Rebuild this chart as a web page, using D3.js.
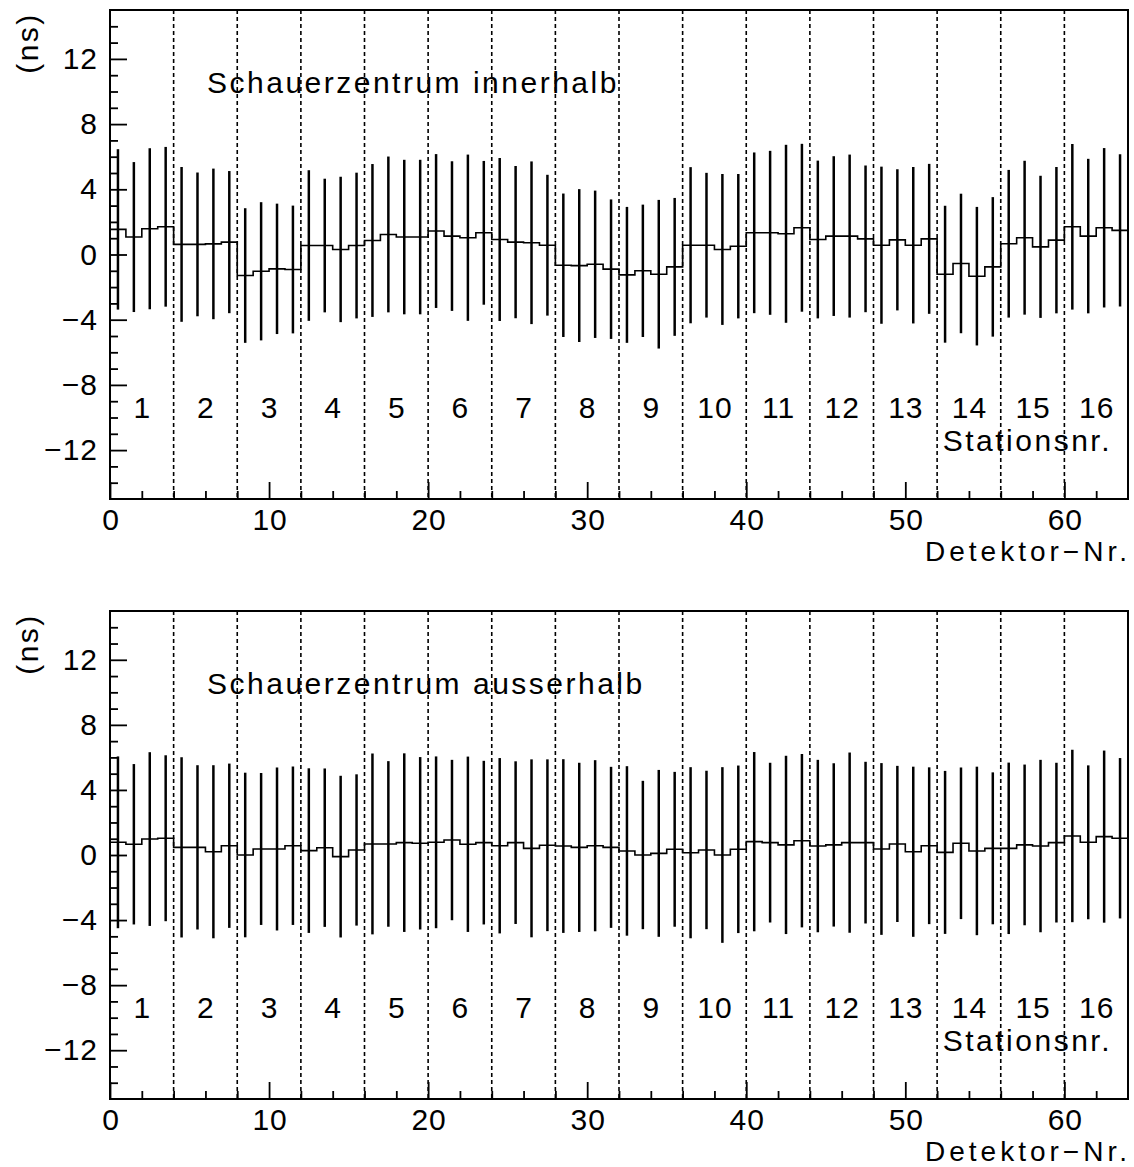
<!DOCTYPE html>
<html>
<head>
<meta charset="utf-8">
<script src="https://cdn.jsdelivr.net/npm/d3@7"></script>
<style>
  body { margin: 0; background: #fff; }
  svg text { font-family: "Liberation Sans", Arial, sans-serif; fill: #000; }
</style>
</head>
<body>
<svg id="chart"></svg>
<script>
// Mittelwerte und Fehler je Detektor (0..63)
const meansIn = [1.54, 1.07, 1.58, 1.70, 0.62, 0.62, 0.65, 0.76, -1.29, -1.03, -0.88, -0.92, 0.55, 0.55, 0.31, 0.55,
                 0.86, 1.23, 1.07, 1.07, 1.44, 1.13, 1.03, 1.33, 0.92, 0.76, 0.72, 0.57, -0.66, -0.68, -0.60, -0.90,
                 -1.25, -1.00, -1.21, -0.76, 0.57, 0.57, 0.31, 0.51, 1.33, 1.33, 1.27, 1.64, 0.92, 1.13, 1.13, 0.96,
                 0.57, 0.90, 0.57, 0.96, -1.21, -0.55, -1.33, -0.76, 0.66, 1.03, 0.47, 0.88, 1.70, 1.13, 1.64, 1.48];
const errsIn = [4.92, 4.60, 4.94, 4.90, 4.75, 4.41, 4.62, 4.36, 4.13, 4.24, 4.00, 3.92, 4.62, 4.10, 4.46, 4.47,
                4.69, 4.78, 4.74, 4.74, 4.72, 4.59, 5.10, 4.41, 5.00, 4.67, 4.99, 4.32, 4.40, 4.69, 4.52, 4.28,
                4.17, 4.06, 4.56, 4.23, 4.79, 4.44, 4.63, 4.43, 4.93, 5.03, 5.46, 5.15, 4.84, 4.90, 5.00, 4.50,
                4.82, 4.33, 4.80, 4.60, 4.20, 4.28, 4.25, 4.28, 4.53, 4.72, 4.36, 4.49, 5.08, 4.74, 4.89, 4.67];
const meansOut = [0.78, 0.66, 0.98, 1.03, 0.47, 0.47, 0.20, 0.57, 0.00, 0.37, 0.37, 0.57, 0.27, 0.45, -0.10, 0.31,
                  0.68, 0.68, 0.76, 0.72, 0.78, 0.92, 0.66, 0.76, 0.57, 0.76, 0.41, 0.60, 0.55, 0.47, 0.57, 0.47,
                  0.25, 0.00, 0.10, 0.35, 0.14, 0.31, 0.00, 0.35, 0.82, 0.76, 0.62, 0.88, 0.55, 0.62, 0.76, 0.76,
                  0.37, 0.68, 0.20, 0.57, 0.16, 0.72, 0.25, 0.41, 0.41, 0.62, 0.55, 0.76, 1.17, 0.78, 1.13, 1.03];
const errsOut = [5.28, 4.93, 5.34, 5.10, 5.54, 5.05, 5.32, 5.05, 5.06, 4.67, 5.01, 4.87, 5.06, 4.87, 4.97, 4.65,
                 5.56, 5.09, 5.49, 5.30, 5.28, 4.93, 5.39, 5.03, 5.39, 5.00, 5.47, 5.28, 5.34, 5.20, 5.26, 4.95,
                 5.21, 4.56, 5.13, 4.76, 5.26, 4.87, 5.40, 5.15, 5.51, 4.91, 5.48, 5.33, 5.30, 5.02, 5.54, 4.97,
                 5.28, 4.80, 5.23, 4.82, 5.01, 4.66, 5.18, 4.67, 5.27, 4.94, 5.30, 4.91, 5.30, 4.73, 5.29, 4.93];

const stations = [1, 2, 3, 4, 5, 6, 7, 8, 9, 10, 11, 12, 13, 14, 15, 16];
const stationBorders = [4, 8, 12, 16, 20, 24, 28, 32, 36, 40, 44, 48, 52, 56, 60];
const xMajor = [0, 10, 20, 30, 40, 50, 60];
const xMinor = [2, 4, 6, 8, 12, 14, 16, 18, 22, 24, 26, 28, 32, 34, 36, 38, 42, 44, 46, 48, 52, 54, 56, 58, 62];
const yMajor = [-12, -8, -4, 0, 4, 8, 12];
const yMinor = [-14, -13, -11, -10, -9, -7, -6, -5, -3, -2, -1, 1, 2, 3, 5, 6, 7, 9, 10, 11, 13, 14];

const panels = [
    { title: 'Schauerzentrum innerhalb', means: meansIn, errs: errsIn, top: 10, bottom: 499 },
    { title: 'Schauerzentrum ausserhalb', means: meansOut, errs: errsOut, top: 611, bottom: 1099 }
];

const width = 1134, height = 1167;
const left = 110, right = 1128;
const fs = 30;      // Schriftgroesse
const ls = 2.5;     // Buchstabenabstand fuer Texte
const lsNum = 1;    // Buchstabenabstand fuer Zahlen

const svg = d3.select('#chart').attr('width', width).attr('height', height);

const x = d3.scaleLinear().domain([0, 64]).range([left, right]);

panels.forEach(p => drawPanel(p));

function drawPanel(p) {
    const y = d3.scaleLinear().domain([-15, 15]).range([p.bottom, p.top]);
    const g = svg.append('g');

    // Stationsgrenzen (gestrichelt)
    g.selectAll('.border').data(stationBorders).enter().append('line')
        .attr('x1', d => x(d)).attr('x2', d => x(d))
        .attr('y1', p.top).attr('y2', p.bottom)
        .attr('stroke', '#000').attr('stroke-width', 1.6)
        .attr('stroke-dasharray', '4,3');

    // Histogramm-Stufenlinie
    const pts = [];
    p.means.forEach((m, i) => { pts.push([i, m]); pts.push([i + 1, m]); });
    g.append('path')
        .datum(pts)
        .attr('fill', 'none').attr('stroke', '#000').attr('stroke-width', 1.6)
        .attr('d', d3.line().x(d => x(d[0])).y(d => y(d[1])));

    // Fehlerbalken
    g.selectAll('.err').data(p.means).enter().append('line')
        .attr('x1', (d, i) => x(i + 0.5)).attr('x2', (d, i) => x(i + 0.5))
        .attr('y1', (d, i) => y(d - p.errs[i])).attr('y2', (d, i) => y(d + p.errs[i]))
        .attr('stroke', '#000').attr('stroke-width', 2.5);

    // Achsen
    g.append('g').attr('transform', `translate(${left},0)`)
        .call(d3.axisLeft(y).tickValues(yMajor).tickSize(-17).tickSizeOuter(0).tickPadding(12));
    g.append('g').attr('transform', `translate(${left},0)`)
        .call(d3.axisLeft(y).tickValues(yMinor).tickSize(-8).tickSizeOuter(0).tickFormat(''));
    const xAxis = g.append('g').attr('transform', `translate(0,${p.bottom})`)
        .call(d3.axisBottom(x).tickValues(xMajor).tickSize(-17).tickSizeOuter(0).tickPadding(10));
    g.append('g').attr('transform', `translate(0,${p.bottom})`)
        .call(d3.axisBottom(x).tickValues(xMinor).tickSize(-8).tickSizeOuter(0).tickFormat(''));

    g.selectAll('.domain').remove();
    g.selectAll('.tick line').attr('stroke', '#000').attr('stroke-width', 1.8);
    g.selectAll('.tick text')
        .style('font-size', fs + 'px').style('letter-spacing', lsNum + 'px')
        .style('font-family', '"Liberation Sans", Arial, sans-serif');
    xAxis.selectAll('.tick text').attr('dx', lsNum / 2);

    // Rahmen
    g.append('rect')
        .attr('x', left).attr('y', p.top)
        .attr('width', right - left).attr('height', p.bottom - p.top)
        .attr('fill', 'none').attr('stroke', '#000').attr('stroke-width', 2);

    // Stationsnummern
    g.selectAll('.station').data(stations).enter().append('text')
        .attr('x', d => x(d * 4 - 2) + lsNum / 2)
        .attr('y', p.bottom - 81)
        .attr('text-anchor', 'middle')
        .style('font-size', fs + 'px').style('letter-spacing', lsNum + 'px')
        .text(d => d);

    g.append('text')
        .attr('x', 1112).attr('y', p.bottom - 48)
        .attr('text-anchor', 'end')
        .style('font-size', fs + 'px').style('letter-spacing', ls + 'px')
        .text('Stationsnr.');

    g.append('text')
        .attr('x', 1131).attr('y', p.bottom + 62)
        .attr('text-anchor', 'end')
        .style('font-size', '28px').style('letter-spacing', '4px')
        .text('Detektor\u2212Nr.');

    g.append('text')
        .attr('x', 207).attr('y', p.top + 83)
        .style('font-size', fs + 'px').style('letter-spacing', ls + 'px')
        .text(p.title);

    g.append('text')
        .attr('transform', `translate(27,${p.top + 33}) rotate(-90)`)
        .attr('text-anchor', 'middle').attr('dominant-baseline', 'central')
        .style('font-size', fs + 'px').style('letter-spacing', ls + 'px')
        .text('(ns)');
}
</script>
</body>
</html>
